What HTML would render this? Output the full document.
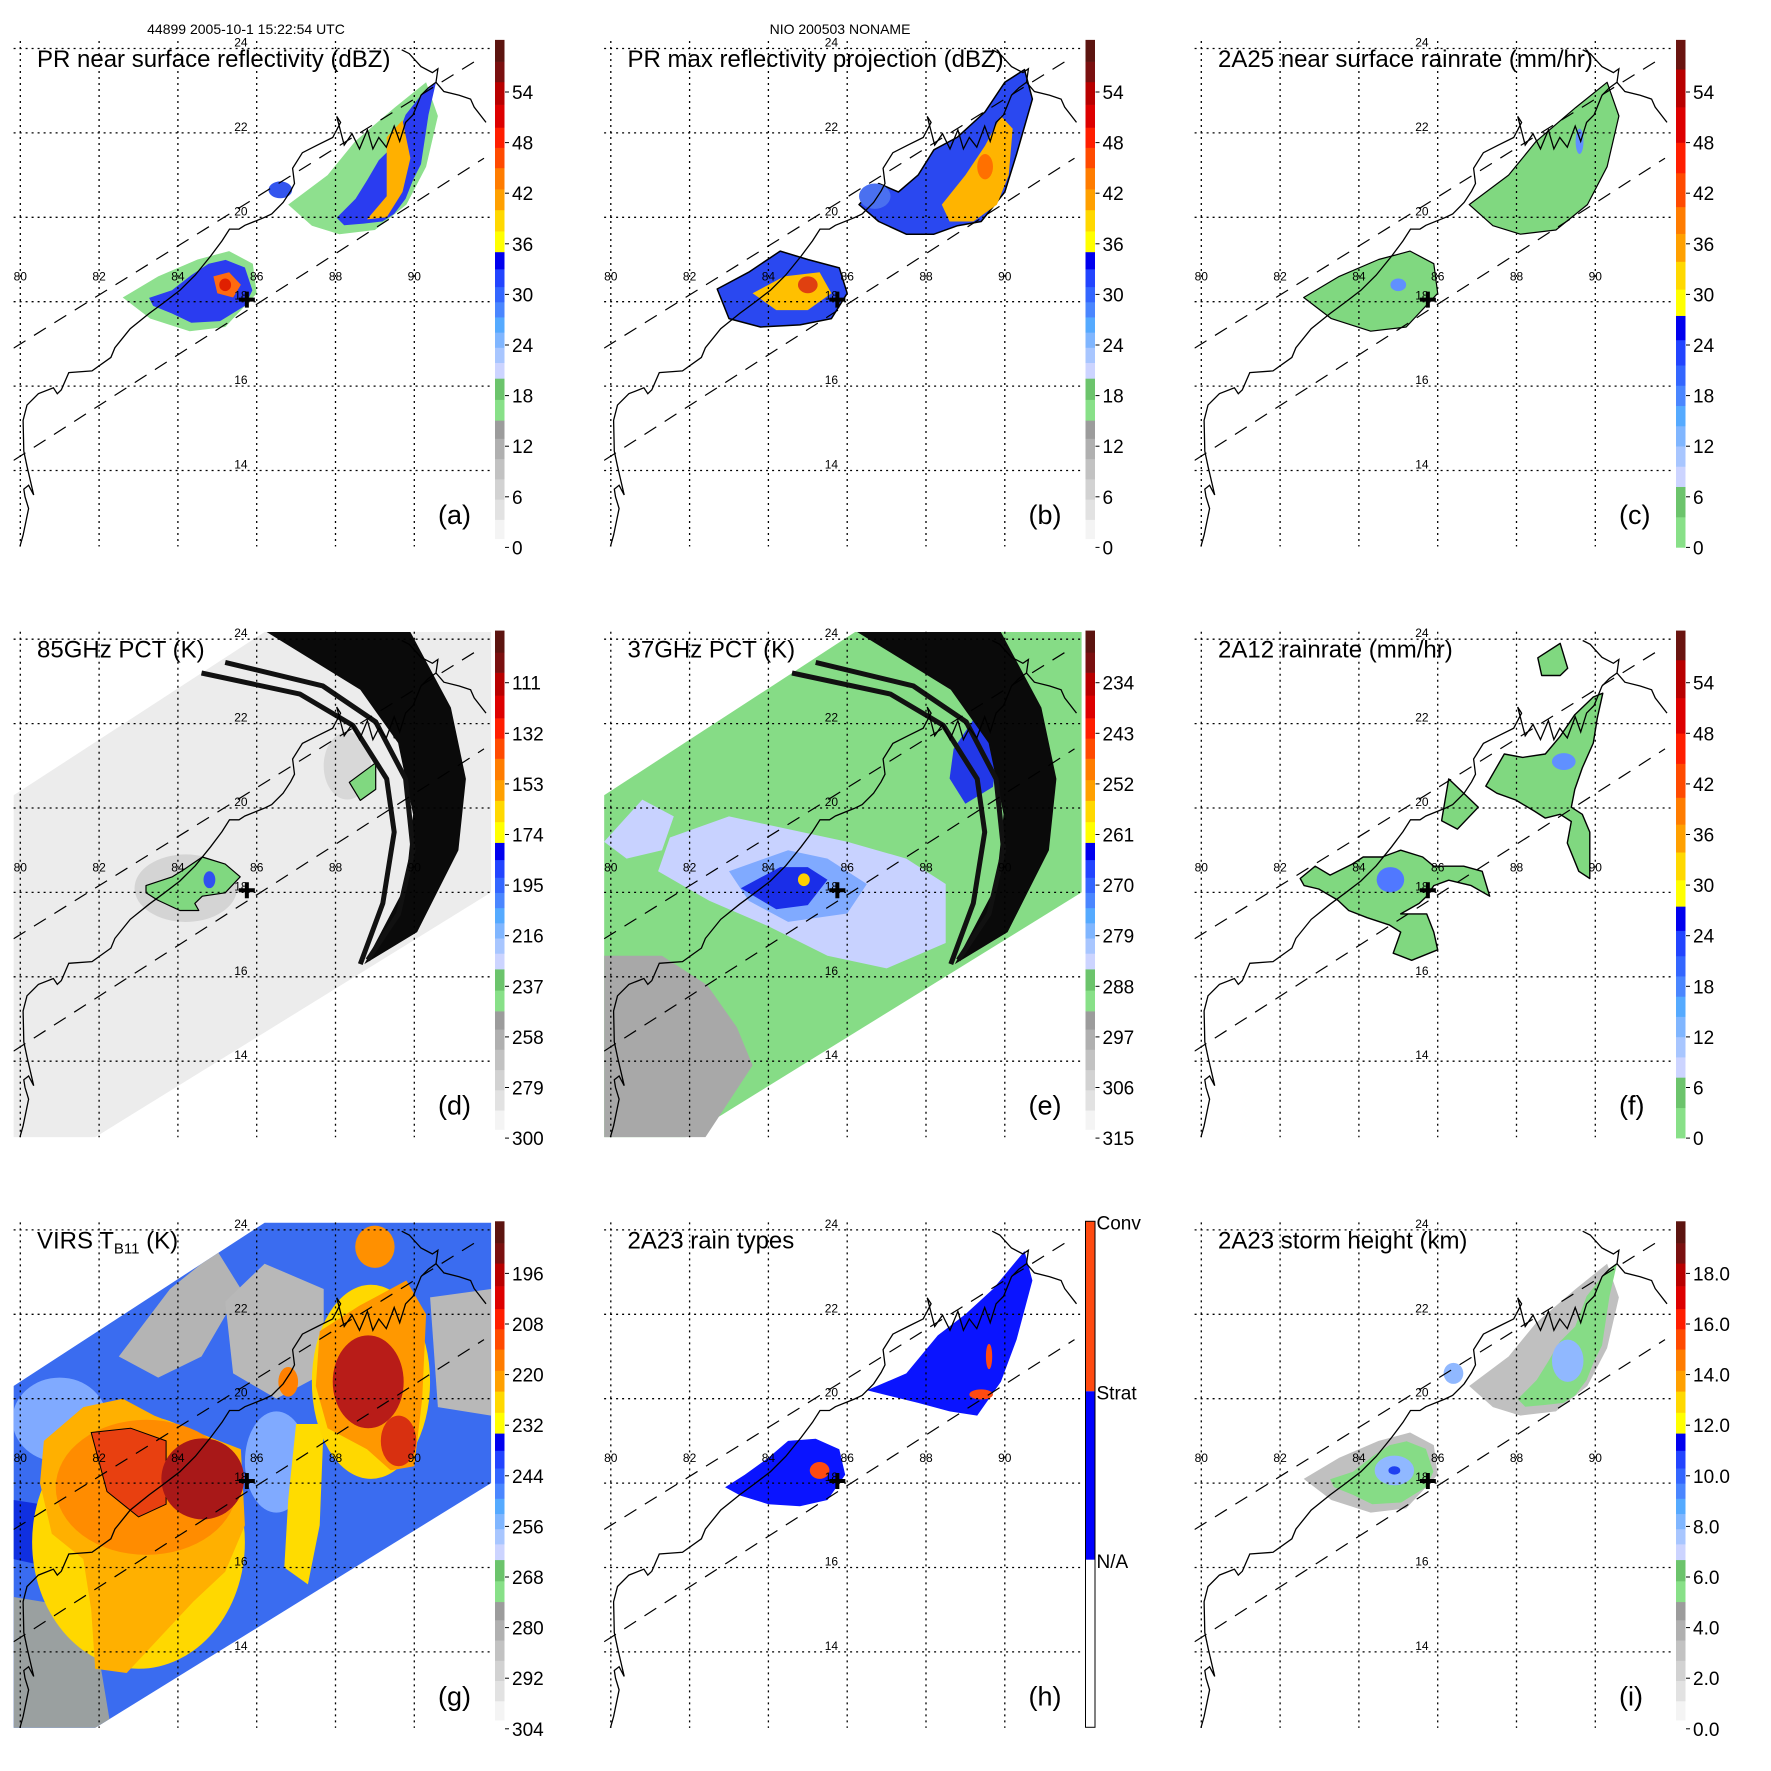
<!DOCTYPE html>
<html><head><meta charset="utf-8"><title>TRMM overpass panels</title>
<style>html,body{margin:0;padding:0;background:#fff}svg{display:block}text{font-family:"Liberation Sans",sans-serif}</style>
</head><body>
<svg id="fig" xmlns="http://www.w3.org/2000/svg" width="1771" height="1771" viewBox="0 0 1771 1771">
<rect width="1771" height="1771" fill="#fff"/>
<text x="246" y="34" font-size="14" text-anchor="middle">44899 2005-10-1 15:22:54 UTC</text>
<text x="840" y="34" font-size="14" text-anchor="middle">NIO 200503 NONAME</text>
</svg>
<script>
// ---------- data ----------
const panelIds=['a','b','c','d','e','f','g','h','i'];
const panelTitles=['PR near surface reflectivity (dBZ)','PR max reflectivity projection (dBZ)','2A25 near surface rainrate (mm/hr)','85GHz PCT (K)','37GHz PCT (K)','2A12 rainrate (mm/hr)','VIRS T','2A23 rain types','2A23 storm height (km)'];
const cbLabels=[
['0','6','12','18','24','30','36','42','48','54'],
['0','6','12','18','24','30','36','42','48','54'],
['0','6','12','18','24','30','36','42','48','54'],
['300','279','258','237','216','195','174','153','132','111'],
['315','306','297','288','279','270','261','252','243','234'],
['0','6','12','18','24','30','36','42','48','54'],
['304','292','280','268','256','244','232','220','208','196'],
null,
['0.0','2.0','4.0','6.0','8.0','10.0','12.0','14.0','16.0','18.0']];
const latTicks=[24,22,20,18,16,14];
const lonTicks=[80,82,84,86,88,90];
const coast=[[79.99,12.2],[80.07,12.47],[80.21,13.1],[80.12,13.38],[80.09,13.56],[80.21,13.65],[80.34,13.42],[80.17,14.1],[80.09,14.46],[80.07,15.19],[80.17,15.55],[80.46,15.82],[80.84,15.96],[80.94,15.82],[81.04,15.91],[81.23,16.32],[81.82,16.36],[82.3,16.68],[82.4,16.91],[82.79,17.36],[83.27,17.72],[83.66,17.99],[84.05,18.27],[84.44,18.63],[84.83,19.08],[85.12,19.44],[85.31,19.72],[85.55,19.72],[85.7,19.81],[86.18,19.99],[86.38,20.08],[86.67,20.35],[86.86,20.62],[86.96,20.8],[86.91,21.16],[87.16,21.53],[87.54,21.71],[87.93,21.89],[88.03,22.07],[88.13,22.25],[88.03,22.39],[88.22,21.71],[88.42,21.98],[88.61,21.62],[88.81,22.07],[88.95,21.62],[89.1,21.89],[89.29,21.66],[89.49,22.16],[89.63,21.8],[89.78,22.25],[89.97,22.43],[90.17,22.89],[90.36,23.07],[90.55,23.2],[90.6,23.52],[90.46,23.43],[90.17,23.57],[89.87,23.88],[89.68,23.97]];
const coastEast=[[90.55,23.2],[90.75,22.98],[91.14,22.89],[91.43,22.8],[91.52,22.61],[91.82,22.25]];
const swathUpper=[[79.83,16.9],[91.72,23.8]];
const swathLower=[[79.83,14.24],[91.77,21.4]];
const stormCenter=[85.75,18.05];
const mwSwath=[[79.83,20.3],[86.2,24.17],[91.95,24.17],[91.95,18.0],[81.9,12.2],[79.83,12.2]];
const bandThickL=[[86.25,24.17],[88.63,22.8],[89.59,21.54],[89.97,19.85],[89.78,18.16],[88.73,16.3]];
const bandThickR=[[89.9,24.17],[90.93,22.38],[91.31,20.69],[91.12,19.0],[90.07,17.06]];
const bandThin1=[[84.6,23.2],[87.1,22.7],[88.44,21.96],[89.3,20.69],[89.49,19.43],[89.2,17.74],[88.63,16.3]];
const bandThin2=[[85.2,23.45],[87.68,22.89],[89.02,22.04],[89.78,20.69],[89.97,19.0],[89.6,17.49],[88.82,16.4]];
// precipitation shapes
const aSWgreen=[[82.6,18.1],[83.5,18.6],[84.5,19.0],[85.3,19.2],[85.9,18.9],[86.0,18.2],[85.2,17.4],[84.3,17.3],[83.3,17.6]];
const aSWblue=[[83.27,18.09],[83.85,18.27],[84.34,18.63],[84.78,18.9],[85.21,18.99],[85.7,18.81],[85.89,18.27],[85.7,17.9],[85.07,17.54],[84.34,17.5],[83.85,17.72],[83.37,17.9]];
const aSWcore=[[84.9,18.6],[85.3,18.7],[85.6,18.4],[85.4,18.1],[85.0,18.2]];
const aNEgreen=[[86.8,20.3],[87.8,21.0],[88.5,21.8],[89.5,22.6],[90.3,23.2],[90.6,22.4],[90.3,21.2],[89.8,20.3],[89.0,19.7],[88.1,19.6],[87.4,19.8]];
const aNEblue=[[88.03,19.99],[88.51,20.44],[88.81,20.89],[89.1,21.35],[89.49,21.71],[89.78,22.43],[90.17,22.89],[90.55,23.2],[90.36,22.43],[90.17,21.26],[89.97,20.89],[89.78,20.44],[89.49,20.08],[89.19,19.9],[88.71,19.85],[88.22,19.81]];
const aNEcore=[[89.3,21.9],[89.7,22.3],[89.9,21.4],[89.7,20.6],[89.3,20.0],[88.8,19.95],[89.3,20.5]];
const bNEblue=[[86.3,20.3],[86.8,20.8],[87.3,20.6],[87.8,21.0],[88.2,21.6],[88.8,21.9],[89.5,22.5],[90.0,23.2],[90.5,23.5],[90.7,22.8],[90.3,21.5],[90.0,20.6],[89.4,19.9],[88.8,19.8],[88.2,19.6],[87.5,19.6],[86.8,19.9]];
const bNEcore=[[88.4,20.3],[89.0,21.0],[89.5,21.7],[89.9,22.4],[90.2,22.1],[90.1,21.0],[89.8,20.3],[89.2,19.9],[88.6,19.9]];
const bSWblue=[[82.7,18.3],[83.5,18.7],[84.3,19.2],[85.0,19.0],[85.8,18.8],[86.0,18.2],[85.6,17.6],[84.8,17.45],[83.8,17.4],[83.0,17.6]];
const bSWcore=[[83.6,18.2],[84.4,18.6],[85.3,18.7],[85.6,18.2],[85.0,17.8],[84.2,17.8]];
const fSW=[[82.51,18.33],[82.89,18.62],[83.27,18.41],[83.83,18.67],[84.11,18.84],[84.59,18.84],[85.06,19.0],[85.62,18.84],[85.9,18.62],[86.66,18.62],[87.13,18.5],[87.32,17.91],[86.85,18.16],[86.28,18.29],[85.9,18.16],[85.72,17.91],[85.53,17.74],[85.06,17.49],[85.72,17.49],[85.9,17.06],[86.0,16.64],[85.34,16.39],[84.87,16.56],[85.06,17.06],[84.77,17.23],[84.21,17.4],[83.74,17.57],[83.46,17.82],[82.98,18.08],[82.61,18.16]];
const fNE=[[87.22,20.52],[87.69,21.28],[88.16,21.2],[88.73,21.28],[89.11,21.7],[89.48,22.21],[89.95,22.63],[90.19,22.72],[90.05,22.13],[89.95,21.54],[89.67,20.95],[89.48,20.44],[89.39,20.02],[89.67,19.85],[89.86,19.43],[89.86,18.33],[89.58,18.5],[89.29,19.17],[89.39,19.68],[89.11,19.85],[88.73,19.76],[88.45,19.93],[87.98,20.19],[87.5,20.35]];
const fTop=[[88.54,23.56],[89.11,23.9],[89.3,23.31],[89.11,23.14],[88.64,23.14]];
const fSmall=[[86.28,20.69],[87.03,20.02],[86.5,19.5],[86.1,19.7]];
const dGreenSW=[[83.19,18.16],[83.86,18.37],[84.15,18.54],[84.62,18.84],[85.2,18.67],[85.58,18.37],[85.2,17.99],[84.62,17.91],[84.43,17.74],[84.53,17.57],[84.05,17.57],[83.48,17.82],[83.19,17.99]];
const dGreenNE1=[[88.35,20.61],[89.02,21.07],[89.02,20.44],[88.63,20.18]];
const dGreenNE2=[[89.4,22.13],[89.97,22.21],[89.93,21.7],[89.49,21.66]];
const eGray=[[79.83,16.5],[81.3,16.5],[82.45,15.8],[83.2,14.8],[83.6,13.9],[82.4,12.2],[79.83,12.2]];
const eLight=[[81.5,19.3],[83,19.8],[84.5,19.5],[86,19.2],[87.5,18.8],[88.5,18.2],[88.5,16.8],[87,16.2],[85.5,16.5],[84,17.2],[82.5,17.8],[81.2,18.5]];
const eMid=[[83,18.5],[84.5,19],[85.5,18.8],[86.5,18.2],[86,17.5],[84.5,17.3],[83.5,17.8]];
const eDark=[[83.3,18.1],[84.3,18.6],[85.0,18.6],[85.5,18.3],[85.0,17.7],[84.2,17.6]];
const eNE=[[88.7,21.4],[89.5,22.5],[89.9,22],[89.7,20.5],[89,20.1],[88.6,20.7]];
const eNWlight=[[79.83,19.2],[80.8,20.2],[81.6,19.8],[81.3,19.0],[80.4,18.8]];
const gOrange=[[80.6,19.0],[81.6,19.8],[82.6,20.0],[83.4,19.6],[84.5,19.2],[85.6,18.8],[85.7,17.0],[85.2,15.9],[84.4,15.2],[83.6,14.4],[82.7,13.5],[81.9,13.6],[81.8,15.0],[81.6,16.2],[80.8,16.8],[80.5,18.0]];
const gRedL=[[81.8,19.2],[82.8,19.3],[83.7,19.0],[83.7,17.5],[83.0,17.2],[82.2,17.8]];
const gNEorange=[[87.6,21.6],[88.6,22.2],[89.8,22.8],[90.3,22.0],[90.2,20.0],[90.0,18.4],[89.4,18.3],[88.8,18.8],[87.8,19.3],[87.5,20.3]];
const gGray1=[[85.2,22.3],[86.2,23.2],[87.7,22.6],[87.7,20.6],[86.5,20.0],[85.4,20.6]];
const gGray2=[[90.4,22.4],[91.95,22.6],[91.95,19.6],[90.6,19.8]];
const gGray3=[[79.83,15.3],[81.8,15.0],[82.3,12.2],[79.83,12.2]];
const gGray4=[[82.5,21.0],[83.8,22.6],[85.0,23.5],[85.6,22.6],[84.6,21.0],[83.5,20.5]];
const gBlueDark=[[79.83,17.6],[81.2,17.4],[82.3,16.8],[82.0,16.2],[80.8,16.0],[79.83,16.2]];
const gYellowStrip=[[87.0,19.4],[87.7,19.4],[87.6,17.0],[87.3,15.6],[86.7,16.0],[86.8,17.6]];
const hSW=[[82.9,17.9],[83.4,18.2],[84.0,18.6],[84.5,19.0],[85.2,19.05],[85.8,18.8],[85.95,18.2],[85.5,17.6],[84.8,17.45],[84.0,17.5],[83.3,17.7]];
const hNE=[[86.5,20.2],[87.5,20.6],[88.3,21.5],[89.0,22.0],[89.7,22.6],[90.5,23.5],[90.7,22.8],[90.3,21.4],[89.9,20.4],[89.3,19.6],[88.6,19.7],[87.8,19.9]];
const stdBands=[[0.17,'#f4f4f4'],[0.55,'#e2e2e2'],[0.95,'#d2d2d2'],[1.35,'#c2c2c2'],[1.75,'#b0b0b0'],[2.15,'#9c9c9c'],[2.51,'#88e088'],[2.92,'#6cc46c'],[3.34,'#ccd4ff'],[3.65,'#a8c6ff'],[3.95,'#80b6ff'],[4.25,'#55aaff'],[4.55,'#4a86ff'],[4.85,'#3366ff'],[5.15,'#2244ff'],[5.5,'#0000ee'],[5.84,'#ffff00'],[6.25,'#ffd800'],[6.67,'#ffa000'],[7.08,'#ff7c00'],[7.5,'#ff4a00'],[7.9,'#ff1e00'],[8.3,'#dd0000'],[8.75,'#b80000'],[9.2,'#7a1010'],[9.6,'#5c1410'],[10.03,null]];
const rainBands=[[0.0,'#88e088'],[0.6,'#6cc46c'],[1.2,'#ccd4ff'],[1.6,'#a8c6ff'],[2.0,'#80b6ff'],[2.4,'#55aaff'],[2.8,'#4a86ff'],[3.2,'#3366ff'],[3.6,'#2244ff'],[4.1,'#0000ee'],[4.58,'#ffff00'],[5.1,'#ffd800'],[5.65,'#ffa000'],[6.2,'#ff7c00'],[6.73,'#ff4a00'],[7.4,'#ff1e00'],[8.0,'#dd0000'],[8.7,'#b80000'],[9.45,'#6a1410'],[10.03,null]];
// ---------- geometry ----------
const NS='http://www.w3.org/2000/svg';
const svg=document.getElementById('fig');
const colW=590.5,rowH=590.7;
function X(lon){return 20.3+(lon-80)*39.4;}
function Y(lat){return 48.5+(24-lat)*42.2;}
function tickY(i){return 547.4-50.6*i;}
function mk(tag,attrs,parent){const e=document.createElementNS(NS,tag);for(const k in attrs)e.setAttribute(k,attrs[k]);parent.appendChild(e);return e;}
function pts(arr){return arr.map(p=>X(p[0]).toFixed(1)+','+Y(p[1]).toFixed(1)).join(' ');}
function poly(parent,arr,fill,name,stroke,sw){const e=mk('polygon',{points:pts(arr),fill:fill,stroke:stroke||'none','stroke-width':sw||0,'stroke-linejoin':'round'},parent);

return e;}
function line(parent,arr,name,attrs){const e=mk('polyline',Object.assign({points:pts(arr),fill:'none',stroke:'#000','stroke-width':1.2},attrs||{}),parent);

return e;}
function ell(parent,lon,lat,rl,rt,fill,name){const e=mk('ellipse',{cx:X(lon),cy:Y(lat),rx:rl*39.4,ry:rt*42.2,fill:fill},parent);

return e;}
const defs=mk('defs',{},svg);
const cp=mk('clipPath',{id:'mapclip'},defs);mk('rect',{x:13.6,y:41,width:478,height:505.5},cp);
const cpS=mk('clipPath',{id:'swathclip'},defs);mk('polygon',{points:pts(mwSwath)},cpS);

function drawContent(k,g){
  if(k==='a'){poly(g,aSWgreen,'#8ee08e','stratiform-green-sw');poly(g,aNEgreen,'#8ee08e','stratiform-green-ne');
    poly(g,aSWblue,'#2a3cf0','echo-blue-sw');poly(g,aNEblue,'#2a3cf0','echo-blue-ne');ell(g,86.6,20.65,0.3,0.2,'#3355ee','echo-blob');
    poly(g,aSWcore,'#ff6a10','core-orange-sw');poly(g,aNEcore,'#ffb000','core-orange-ne');ell(g,85.2,18.4,0.15,0.15,'#e02000','core-red');}
  if(k==='b'){poly(g,bNEblue,'#2a48f0','echo-blue-ne','#000',1.5);poly(g,bSWblue,'#2a48f0','echo-blue-sw','#000',1.5);
    ell(g,86.7,20.5,0.4,0.3,'#4a70f0','echo-blob');poly(g,bNEcore,'#ffb400','core-ne');poly(g,bSWcore,'#ffc000','core-sw');
    ell(g,85.0,18.4,0.25,0.2,'#e04010','core-red');ell(g,89.5,21.2,0.2,0.3,'#ff7000','core-orange');}
  if(k==='c'){poly(g,aSWgreen,'#80d880','rain-sw','#000',1.2);poly(g,aNEgreen,'#80d880','rain-ne','#000',1.2);
    ell(g,85.0,18.4,0.2,0.15,'#6090ff','rain-heavy');ell(g,89.6,21.8,0.1,0.3,'#6090ff','rain-heavy-ne');}
  if(k==='d'){poly(g,mwSwath,'#ececec','swath-background');ell(g,84.2,18.1,1.3,0.8,'#d4d4d4','cold-area');ell(g,88.3,21.0,0.6,0.8,'#d8d8d8','cold-area-ne');
    poly(g,dGreenSW,'#80d880','ice-scatter-sw','#000',1.2);poly(g,dGreenNE1,'#80d880','ice-scatter-ne','#000',1.2);poly(g,dGreenNE2,'#80d880','ice-scatter-ne2','#000',1.2);
    ell(g,84.8,18.3,0.15,0.2,'#3050f0','ice-core');}
  if(k==='e'){poly(g,mwSwath,'#86dc86','swath-background');poly(g,eGray,'#a8a8a8','warm-land');poly(g,eNWlight,'#c8d2ff','light-area-nw');
    poly(g,eLight,'#c8d2ff','light-area');poly(g,eMid,'#80aaff','mid-area');poly(g,eDark,'#1a2ee8','dark-area');poly(g,eNE,'#2238e8','dark-area-ne');
    ell(g,84.9,18.3,0.15,0.15,'#ffd000','hot-spot');}
  if(k==='f'){poly(g,fSW,'#80d880','rain-sw','#000',1.4);poly(g,fNE,'#80d880','rain-ne','#000',1.4);poly(g,fTop,'#80d880','rain-top','#000',1.4);poly(g,fSmall,'#80d880','rain-small','#000',1.4);
    ell(g,84.8,18.3,0.35,0.3,'#5078ff','rain-heavy');ell(g,89.2,21.1,0.3,0.2,'#6090ff','rain-heavy-ne');}
  if(k==='g'){poly(g,mwSwath,'#3a6cf0','swath-background');
    const s=mk('g',{'clip-path':'url(#swathclip)'},g);
    
    
    ell(s,81.0,19.5,1.2,1.0,'#80aaff','light-blue-area');ell(s,86.5,18.5,0.8,1.2,'#80aaff','light-blue-area-2');
    poly(s,gGray4,'#b4b4b4','warm-gray-4');poly(s,gGray1,'#b8b8b8','warm-gray-1');poly(s,gGray2,'#b8b8b8','warm-gray-2');poly(s,gGray3,'#9aa0a0','warm-gray-3');
    poly(s,gBlueDark,'#1030e0','cold-blue');poly(s,gYellowStrip,'#ffdc00','yellow-strip');
    ell(s,83.0,16.6,2.7,3.0,'#ffd800','cloud-yellow-rim');
    poly(s,gOrange,'#ffb000','cloud-shield');ell(s,83.2,17.9,2.3,1.6,'#ff8c00','cloud-orange');
    poly(s,gRedL,'#e84010','cloud-red','#000',1);ell(s,84.63,18.1,1.05,0.96,'#a81818','cloud-top-core');
    ell(s,88.9,20.4,1.5,2.3,'#ffd800','cloud-ne-yellow');
    poly(s,gNEorange,'#ff9800','cloud-ne');ell(s,88.83,20.4,0.9,1.1,'#b81c18','cloud-ne-core');ell(s,89.6,19.0,0.45,0.6,'#d83010','cloud-ne-2');ell(s,89.0,23.6,0.5,0.5,'#ff9000','cloud-top');ell(s,86.8,20.4,0.25,0.35,'#ff8000','cloud-small');}
  if(k==='h'){poly(g,hSW,'#0a14ff','strat-sw');poly(g,hNE,'#0a14ff','strat-ne');ell(g,85.3,18.3,0.25,0.2,'#ff4a10','conv-sw');ell(g,89.4,20.1,0.3,0.12,'#ff4a10','conv-ne');ell(g,89.6,21.0,0.08,0.3,'#ff4a10','conv-ne2');}
  if(k==='i'){poly(g,aSWgreen,'#c0c0c0','height-low-sw');poly(g,aNEgreen,'#c0c0c0','height-low-ne');poly(g,aSWblue,'#86dc86','height-mid-sw');poly(g,aNEblue,'#86dc86','height-mid-ne');
    ell(g,84.9,18.3,0.5,0.35,'#90b8ff','height-high-sw');ell(g,89.3,20.9,0.4,0.5,'#90b8ff','height-high-ne');ell(g,86.4,20.6,0.25,0.25,'#90b8ff','height-high-blob');ell(g,84.9,18.3,0.15,0.1,'#2040f0','height-top');}
}
function drawBands(g,bands){for(let j=0;j<bands.length-1;j++){const y1=tickY(bands[j+1][0]),y0=tickY(bands[j][0]);
  const r=mk('rect',{x:495,y:y1,width:9.5,height:y0-y1+0.3,fill:bands[j][1]},g);
  
  }}

panelIds.forEach((k,idx)=>{
  const col=idx%3,row=Math.floor(idx/3);
  const g=mk('g',{transform:`translate(${(col*colW).toFixed(1)},${(row*rowH).toFixed(1)})`},svg);
  
  
  const m=mk('g',{'clip-path':'url(#mapclip)'},g);
  
  
  drawContent(k,m);
  if(k==='d'||k==='e'){
    const band=bandThickL.concat(bandThickR.slice().reverse());
    poly(m,band,'#0a0a0a','scan-gap-band');
    line(m,bandThin1,'scan-gap-arc',{'stroke-width':5,stroke:'#111'});
    line(m,bandThin2,'scan-gap-arc',{'stroke-width':5,stroke:'#111'});
  }
  lonTicks.forEach(lon=>{const l=mk('line',{x1:X(lon),x2:X(lon),y1:41,y2:546.5,stroke:'#000','stroke-width':1.3,'stroke-dasharray':'2 4'},g);
    
    
    const t=mk('text',{x:X(lon),y:Y(18)-21,'font-size':12,'text-anchor':'middle'},g);t.textContent=String(lon);
    
    });
  latTicks.forEach(lat=>{const l=mk('line',{x1:13.6,x2:491,y1:Y(lat),y2:Y(lat),stroke:'#000','stroke-width':1.3,'stroke-dasharray':'2 4'},g);
    
    
    const t=mk('text',{x:X(85.6),y:Y(lat)-2,'font-size':12,'text-anchor':'middle'},g);t.textContent=String(lat);
    
    });
  const mc=mk('g',{'clip-path':'url(#mapclip)'},g);
  
  
  line(mc,coast,'coastline',{'stroke-width':1.3});
  line(mc,coastEast,'coastline-east',{'stroke-width':1.3});
  line(mc,swathUpper,'swath-edge-upper',{'stroke-width':1.2,'stroke-dasharray':'14 10'});
  line(mc,swathLower,'swath-edge-lower',{'stroke-width':1.2,'stroke-dasharray':'14 10'});
  const px=X(stormCenter[0]),py=Y(stormCenter[1]);
  const plus=mk('path',{d:`M${px-8},${py}H${px+8}M${px},${py-8}V${py+8}`,stroke:'#000','stroke-width':4},g);
  
  
  const t=mk('text',{x:37,y:67,'font-size':24},g);
  
  
  if(k==='g'){t.textContent='VIRS T';const s=mk('tspan',{'font-size':15,dy:5},t);s.textContent='B11';const s2=mk('tspan',{dy:-5},t);s2.textContent=' (K)';}
  else t.textContent=panelTitles[idx];
  const lab=mk('text',{x:438,y:524,'font-size':27},g);lab.textContent='('+k+')';
  
  
  const cb=mk('g',{},g);
  
  
  if(k==='h'){
    const segs=[[tickY(10.03),tickY(6.67),'#ff4a10'],[tickY(6.67),tickY(3.34),'#0000ff'],[tickY(3.34),tickY(0.03),'#ffffff']];
    segs.forEach(s=>{const r=mk('rect',{x:495,y:s[0],width:9.5,height:s[1]-s[0],fill:s[2]},cb);
      
      });
    mk('rect',{x:495,y:tickY(10.03),width:9.5,height:tickY(0.03)-tickY(10.03),fill:'none',stroke:'#000','stroke-width':1},cb);
    [['Conv',10.03],['Strat',6.67],['N/A',3.34]].forEach(c=>{const tt=mk('text',{x:506,y:tickY(c[1])+8,'font-size':19},cb);tt.textContent=c[0];
      
      });
  } else {
    drawBands(cb,(k==='c'||k==='f')?rainBands:stdBands);
    cbLabels[idx].forEach((s,i)=>{const y=tickY(i);mk('line',{x1:505,x2:509,y1:y,y2:y,stroke:'#000','stroke-width':1},cb);
      const tt=mk('text',{x:512,y:y+7,'font-size':19},cb);tt.textContent=s;
      
      });
  }
});
</script>
</body></html>
